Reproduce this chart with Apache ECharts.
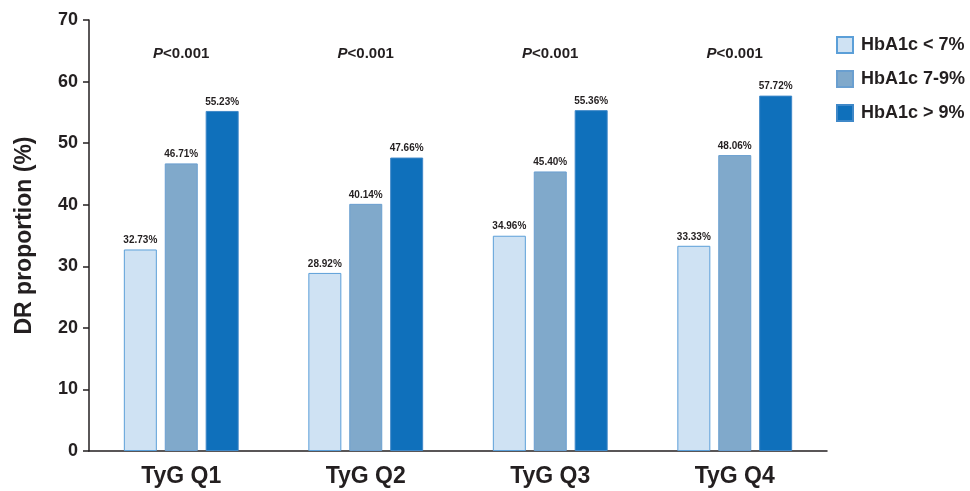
<!DOCTYPE html>
<html>
<head>
<meta charset="utf-8">
<script src="https://cdn.jsdelivr.net/npm/echarts@6/dist/echarts.min.js"></script>
<style>
  html, body { margin: 0; padding: 0; background: #fff; }
  #chart { width: 970px; height: 491px; }
</style>
</head>
<body>
<div id="chart"></div>
<script>
// TyG quartiles and DR proportion (%) by HbA1c group
var categories = ['TyG Q1', 'TyG Q2', 'TyG Q3', 'TyG Q4'];
var seriesNames = ['HbA1c < 7%', 'HbA1c 7-9%', 'HbA1c > 9%'];
var hba1cLow = [32.73, 28.92, 34.96, 33.33];
var hba1cMid = [46.71, 40.14, 45.40, 48.06];
var hba1cHigh = [55.23, 47.66, 55.36, 57.72];
var pValueText = ['<0.001', '<0.001', '<0.001', '<0.001'];
var pLabelLevel = [64.5, 64.5, 64.5, 64.5];

var FONT = '"Liberation Sans", Arial, Helvetica, sans-serif';
var INK = '#231f20';

var fills = ['#cfe2f3', '#80a9cb', '#0f70bb'];
var borders = ['#5b9fd8', '#6a9fd0', '#3f88c8'];

function barSeries(name, values, i) {
  return {
    name: name,
    type: 'bar',
    data: values,
    barWidth: 33,
    barGap: '24%',
    itemStyle: { color: fills[i], borderColor: borders[i], borderWidth: 1 },
    label: {
      show: true,
      position: 'top',
      distance: 4,
      formatter: function (p) { return p.value.toFixed(2) + '%'; },
      fontFamily: FONT,
      fontWeight: 'bold',
      fontSize: 10,
      color: INK
    },
    emphasis: { disabled: true }
  };
}

var chart = echarts.init(document.getElementById('chart'), null, { renderer: 'canvas' });
chart.setOption({
  animation: false,
  backgroundColor: '#ffffff',
  grid: { left: 89, right: 143, top: 20, bottom: 40, containLabel: false },
  legend: {
    data: seriesNames,
    orient: 'vertical',
    left: 831,
    top: 31,
    itemWidth: 16,
    itemHeight: 16,
    itemGap: 16,
    icon: 'rect',
    textStyle: { fontFamily: FONT, fontWeight: 'bold', fontSize: 18, color: INK, padding: [0, 0, 0, 3] },
    selectedMode: false
  },
  xAxis: {
    type: 'category',
    data: categories,
    axisLine: { lineStyle: { color: INK, width: 1.5 } },
    axisTick: { show: false },
    axisLabel: { fontFamily: FONT, fontWeight: 'bold', fontSize: 23, color: INK, margin: 14 }
  },
  yAxis: {
    type: 'value',
    min: 0,
    max: 70,
    interval: 10,
    name: 'DR proportion (%)',
    nameLocation: 'middle',
    nameGap: 53,
    nameTextStyle: { fontFamily: FONT, fontWeight: 'bold', fontSize: 23, color: INK },
    axisLine: { show: true, lineStyle: { color: INK, width: 1.5 } },
    axisTick: { show: true, length: 6, lineStyle: { color: INK, width: 1.5 } },
    axisLabel: { fontFamily: FONT, fontWeight: 'bold', fontSize: 18, color: INK, margin: 11 },
    splitLine: { show: false }
  },
  series: [
    barSeries(seriesNames[0], hba1cLow, 0),
    barSeries(seriesNames[1], hba1cMid, 1),
    barSeries(seriesNames[2], hba1cHigh, 2),
    {
      name: 'P',
      type: 'scatter',
      data: pLabelLevel,
      symbolSize: 0,
      silent: true,
      itemStyle: { opacity: 1 },
      label: {
        show: true,
        position: 'inside',
        opacity: 1,
        color: INK,
        formatter: function (p) { return '{i|P}{t|' + pValueText[p.dataIndex] + '}'; },
        rich: {
          i: { fontFamily: FONT, fontWeight: 'bold', fontStyle: 'italic', fontSize: 15, color: INK },
          t: { fontFamily: FONT, fontWeight: 'bold', fontSize: 15, color: INK }
        }
      }
    }
  ]
});
</script>
</body>
</html>
